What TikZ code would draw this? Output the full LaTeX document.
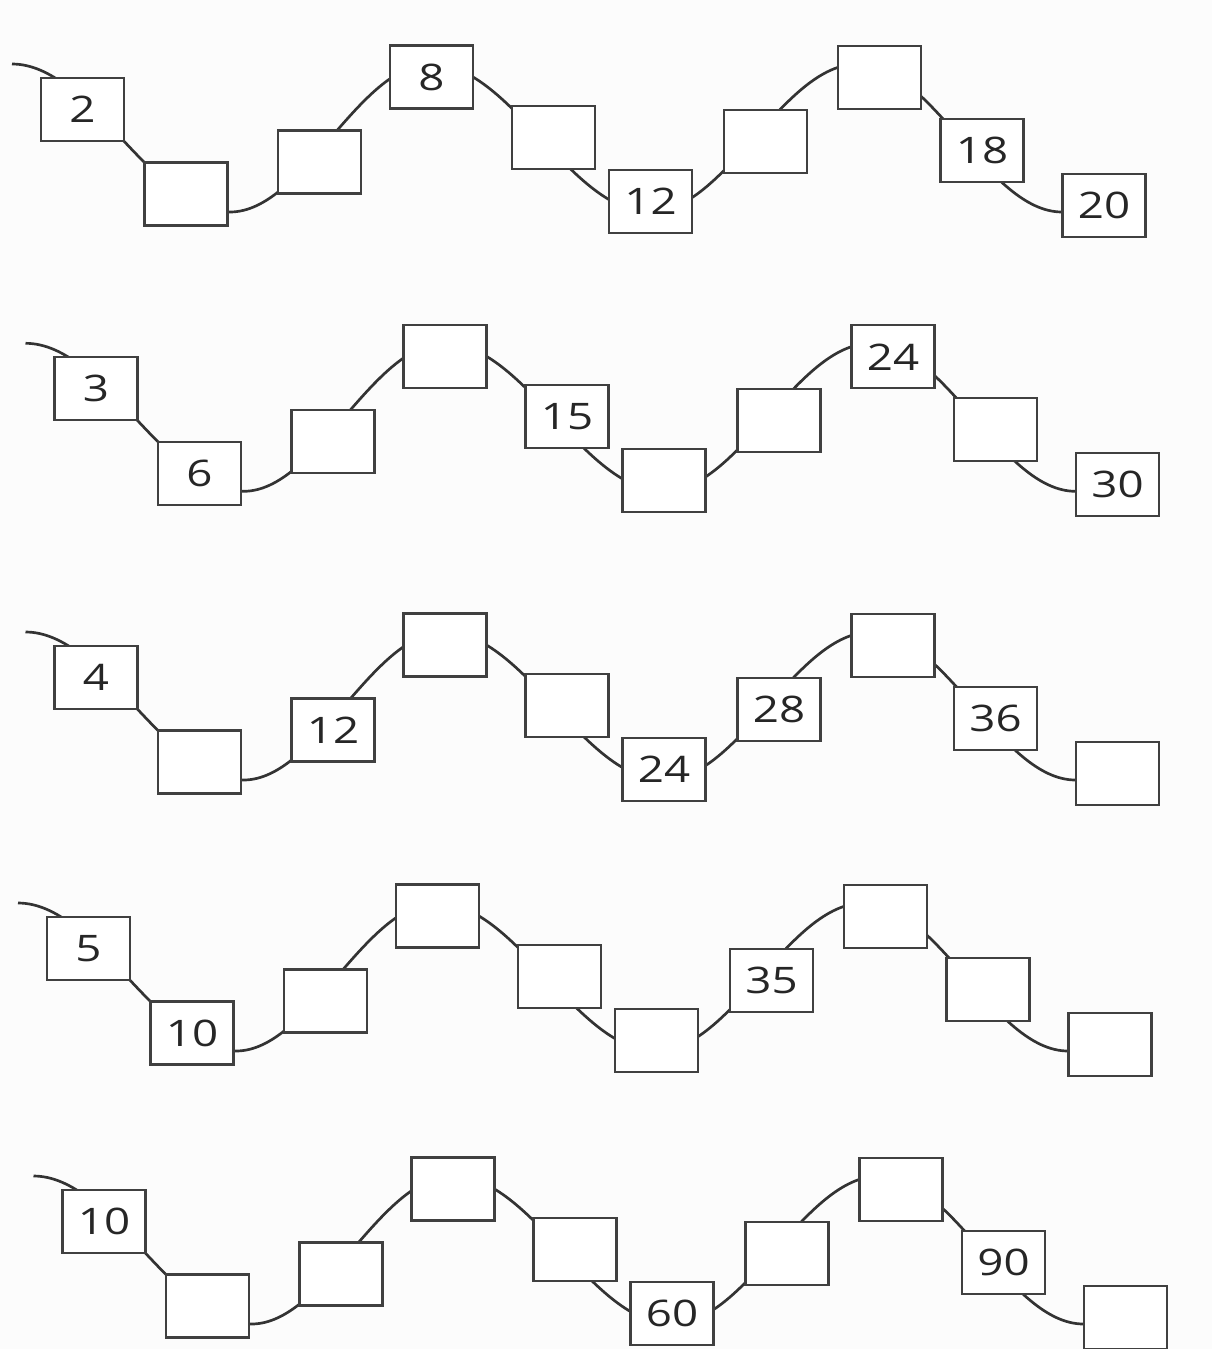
\documentclass[tikz,border=0pt]{standalone}
\usepackage{fontspec}
\newfontfamily\numfont[FakeStretch=1.25]{Open Sans}
\usepackage{tikz}
\usetikzlibrary{
    calc % cálculos de coordenadas
}

\begin{document}
\begin{tikzpicture}[
    x=0.025cm, y=-0.025cm,
    wave/.style={
        line width=1.9pt,
        draw=black!80
    },
    numbox/.style={
        draw=black!75,
        line width=1.5pt,
        fill=white,
        minimum width=2.075cm,
        minimum height=1.575cm,
        inner sep=0pt,
        text=black!85,
        font=\numfont\fontsize{26}{26}\selectfont
    }
]

% Page
\fill[black!1] (0,0) rectangle (1212,1349);
\useasboundingbox (0,0) rectangle (1212,1349);

% Box positions along one row
\def\colx{{82.5,186,319.5,431.5,553.5,650.5,765.5,879.5,982,1104}}
\def\coly{{109.2,194,162,77,137.5,201.5,141.5,77.5,150.5,205.5}}

% Rows: name / shift / numbers
\foreach \r/\sx/\sy/\vals in {
    1/0/0/{2,{},{},8,{},12,{},{},18,20},
    2/13.5/279.3/{3,6,{},{},15,{},{},24,{},30},
    3/13.5/568/{4,{},12,{},{},24,28,{},36,{}},
    4/6/839/{5,10,{},{},{},{},35,{},{},{}},
    5/21.5/1112/{10,{},{},{},{},60,{},{},90,{}}}{
    \begin{scope}[shift={(\sx,\sy)}]
        % Wave
        \coordinate (r\r s)  at (12,64);
        \coordinate (r\r t1) at (230,212);
        \coordinate (r\r p1) at (431,64);
        \coordinate (r\r t2) at (650,212);
        \coordinate (r\r p2) at (858,64);
        \coordinate (r\r t3) at (1062,212);
        \coordinate (r\r e)  at (1090,212);

        \draw[wave]
        (r\r s) .. controls +(79,0) and +(-79,0) .. (r\r t1)
        .. controls +(73,0) and +(-73,0) .. (r\r p1)
        .. controls +(80,0) and +(-80,0) .. (r\r t2)
        .. controls +(76,0) and +(-76,0) .. (r\r p2)
        .. controls +(74,0) and +(-74,0) .. (r\r t3)
        -- (r\r e);

        % Boxes
        \foreach \v [count=\i] in \vals {
            \pgfmathsetmacro\bx{\colx[\i-1]}
            \pgfmathsetmacro\by{\coly[\i-1]}
            \node[numbox] (r\r b\i) at (\bx,\by) {\v};
        }
    \end{scope}
}

\end{tikzpicture}
\end{document}
